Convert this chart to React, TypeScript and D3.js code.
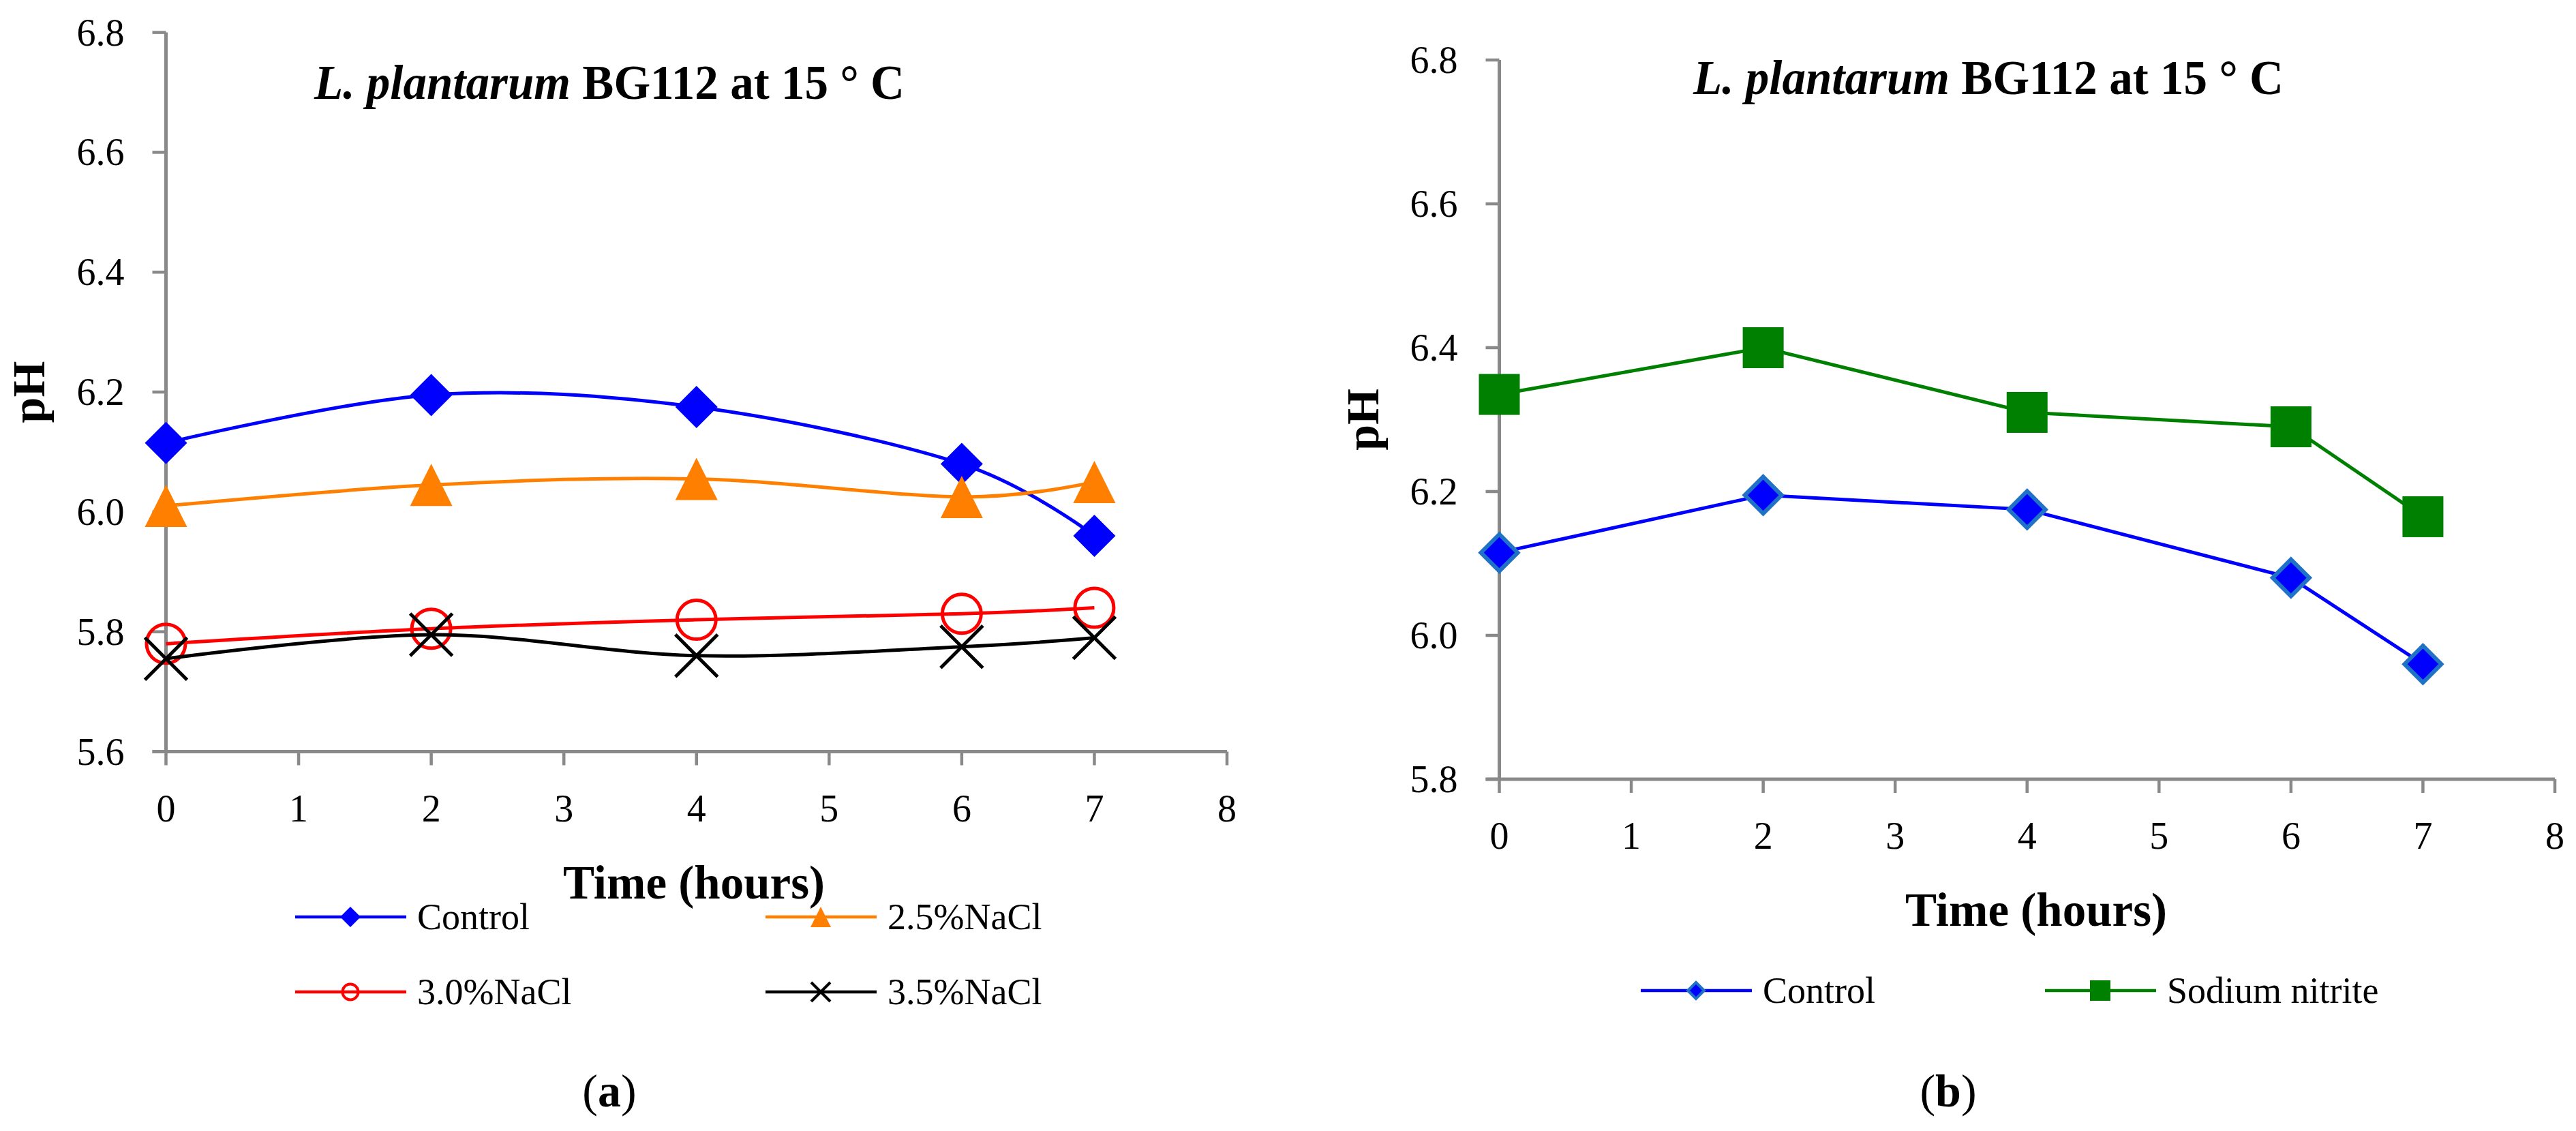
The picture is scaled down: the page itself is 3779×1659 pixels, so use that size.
import React from "react";
import * as d3 from "d3";

// ---------- data ----------
const hours = [0, 2, 4, 6, 7];
const controlPH = [6.115, 6.195, 6.175, 6.08, 5.96];
const nacl25PH = [6.01, 6.045, 6.055, 6.025, 6.05];
const nacl30PH = [5.78, 5.805, 5.82, 5.83, 5.84];
const nacl35PH = [5.755, 5.795, 5.76, 5.775, 5.79];
const nitritePH = [6.335, 6.4, 6.31, 6.29, 6.165];

const xTicks = [0, 1, 2, 3, 4, 5, 6, 7, 8];
const yTicksA = [5.6, 5.8, 6.0, 6.2, 6.4, 6.6, 6.8];
const yTicksB = [5.8, 6.0, 6.2, 6.4, 6.6, 6.8];

const seriesNamesA = ["Control", "2.5%NaCl", "3.0%NaCl", "3.5%NaCl"];
const seriesNamesB = ["Control", "Sodium nitrite"];
const titleItalic = "L. plantarum";
const titleRest = " BG112 at 15 ° C";
const xTitle = "Time (hours)";
const yTitle = "pH";

// ---------- styles ----------
const FONT = "'Liberation Serif', 'Times New Roman', serif";
const AXIS = "#898989";
const BLUE = "#0000ff";
const ORANGE = "#ff8000";
const RED = "#ff0000";
const BLACK = "#000000";
const GREEN = "#008000";
const LIGHTBLUE = "#1f72c6";

type MarkerKind = "diamond" | "triangle" | "circle" | "x" | "diamondOutlined" | "square";

function Marker({ kind, cx, cy, s, color }: { kind: MarkerKind; cx: number; cy: number; s: number; color: string }) {
  if (kind === "diamond") {
    return <path d={`M${cx},${cy - s}L${cx + s},${cy}L${cx},${cy + s}L${cx - s},${cy}Z`} fill={color} />;
  }
  if (kind === "diamondOutlined") {
    const r = s - 3;
    return (
      <path
        d={`M${cx},${cy - r}L${cx + r},${cy}L${cx},${cy + r}L${cx - r},${cy}Z`}
        fill={color}
        stroke={LIGHTBLUE}
        strokeWidth={s > 20 ? 6 : 4}
        strokeLinejoin="miter"
      />
    );
  }
  if (kind === "triangle") {
    return <path d={`M${cx},${cy - s}L${cx + s},${cy + s}L${cx - s},${cy + s}Z`} fill={color} />;
  }
  if (kind === "circle") {
    return <circle cx={cx} cy={cy} r={s - 2.5} fill="none" stroke={color} strokeWidth={s > 20 ? 5 : 4} />;
  }
  if (kind === "x") {
    return (
      <g stroke={color} strokeWidth={s > 20 ? 5 : 4}>
        <line x1={cx - s} y1={cy - s} x2={cx + s} y2={cy + s} />
        <line x1={cx - s} y1={cy + s} x2={cx + s} y2={cy - s} />
      </g>
    );
  }
  return <rect x={cx - s} y={cy - s} width={2 * s} height={2 * s} fill={color} />;
}

type Series = { name: string; values: number[]; color: string; marker: MarkerKind };

type PanelProps = {
  x0: number;
  x1: number;
  yTop: number;
  yBottom: number;
  yTicks: number[];
  series: Series[];
  smooth: boolean;
  markerSize: number;
  titleX: number;
  titleY: number;
  xTitleX: number;
  yTitleX: number;
  legend: { x: number; y: number }[];
  sub: string;
  subX: number;
};

function Panel(p: PanelProps) {
  const x = d3.scaleLinear().domain([0, 8]).range([p.x0, p.x1]);
  const y = d3
    .scaleLinear()
    .domain([p.yTicks[0], p.yTicks[p.yTicks.length - 1]])
    .range([p.yBottom, p.yTop]);
  const line = d3
    .line<number>()
    .x((_, i) => x(hours[i]))
    .y((v) => y(v))
    .curve(p.smooth ? d3.curveCatmullRom.alpha(0) : d3.curveLinear);

  const axisY = y(p.yTicks[0]);
  return (
    <g fontFamily={FONT}>
      {/* y axis */}
      <line x1={x(0)} x2={x(0)} y1={y(p.yTicks[p.yTicks.length - 1])} y2={axisY} stroke={AXIS} strokeWidth={5} />
      {p.yTicks.map((t) => (
        <g key={"yt" + t}>
          <line x1={x(0) - 20} x2={x(0)} y1={y(t)} y2={y(t)} stroke={AXIS} strokeWidth={4.5} />
          <text x={x(0) - 61} y={y(t) + 19} textAnchor="end" fontSize={56} fill="#000">
            {t.toFixed(1)}
          </text>
        </g>
      ))}
      {/* x axis */}
      <line x1={x(0) - 20} x2={x(8)} y1={axisY} y2={axisY} stroke={AXIS} strokeWidth={5} />
      {xTicks.map((t) => (
        <g key={"xt" + t}>
          <line x1={x(t)} x2={x(t)} y1={axisY} y2={axisY + 20} stroke={AXIS} strokeWidth={4.5} />
          <text x={x(t)} y={axisY + 102} textAnchor="middle" fontSize={56} fill="#000">
            {t}
          </text>
        </g>
      ))}
      {/* series */}
      {p.series.map((s) => (
        <g key={s.name + s.color}>
          <path d={line(s.values) || ""} fill="none" stroke={s.color} strokeWidth={5} />
          {s.values.map((v, i) => (
            <Marker key={i} kind={s.marker} cx={x(hours[i])} cy={y(v)} s={p.markerSize} color={s.color} />
          ))}
        </g>
      ))}
      {/* title */}
      <text x={p.titleX} y={p.titleY} fontSize={72} fontWeight="bold" textLength={866} lengthAdjust="spacingAndGlyphs">
        <tspan fontStyle="italic">{titleItalic}</tspan>
        <tspan>{titleRest}</tspan>
      </text>
      {/* axis titles */}
      <text x={p.xTitleX} y={axisY + 215} textAnchor="middle" fontSize={69} fontWeight="bold">
        {xTitle}
      </text>
      <text
        transform={`translate(${p.yTitleX},${(p.yTop + p.yBottom) / 2}) rotate(-90)`}
        textAnchor="middle"
        fontSize={68}
        fontWeight="bold"
      >
        {yTitle}
      </text>
      {/* legend */}
      {p.series.map((s, i) => {
        const L = p.legend[i];
        return (
          <g key={"lg" + i}>
            <line x1={L.x} x2={L.x + 163} y1={L.y} y2={L.y} stroke={s.color} strokeWidth={4.5} />
            <Marker kind={s.marker} cx={L.x + 81} cy={L.y} s={s.marker === "x" || s.marker === "circle" ? 14 : 15} color={s.color} />
            <text x={L.x + 179} y={L.y + 18} fontSize={54}>
              {s.name}
            </text>
          </g>
        );
      })}
      {/* sub label */}
      <text x={p.subX} y={1623} textAnchor="middle" fontSize={68}>
        <tspan>(</tspan>
        <tspan fontWeight="bold">{p.sub}</tspan>
        <tspan>)</tspan>
      </text>
    </g>
  );
}

export default function App() {
  const seriesA: Series[] = [
    { name: seriesNamesA[0], values: controlPH, color: BLUE, marker: "diamond" },
    { name: seriesNamesA[1], values: nacl25PH, color: ORANGE, marker: "triangle" },
    { name: seriesNamesA[2], values: nacl30PH, color: RED, marker: "circle" },
    { name: seriesNamesA[3], values: nacl35PH, color: BLACK, marker: "x" },
  ];
  const seriesB: Series[] = [
    { name: seriesNamesB[0], values: controlPH, color: BLUE, marker: "diamondOutlined" },
    { name: seriesNamesB[1], values: nitritePH, color: GREEN, marker: "square" },
  ];
  return (
    <svg
      width={3779}
      height={1659}
      viewBox="0 0 3779 1659"
      style={{ position: "absolute", left: 0, top: 0, background: "#fff" }}
    >
      <rect x={0} y={0} width={3779} height={1659} fill="#fff" />
      <Panel
        x0={243.5}
        x1={1800}
        yTop={47.6}
        yBottom={1102.5}
        yTicks={yTicksA}
        series={seriesA}
        smooth={true}
        markerSize={31}
        titleX={461}
        titleY={145}
        xTitleX={1018}
        yTitleX={65}
        legend={[
          { x: 433, y: 1345 },
          { x: 1123, y: 1345 },
          { x: 433, y: 1455 },
          { x: 1123, y: 1455 },
        ]}
        sub="a"
        subX={894}
      />
      <Panel
        x0={2199.5}
        x1={3748}
        yTop={88}
        yBottom={1143}
        yTicks={yTicksB}
        series={seriesB}
        smooth={false}
        markerSize={30}
        titleX={2484}
        titleY={138}
        xTitleX={2987}
        yTitleX={2022}
        legend={[
          { x: 2407, y: 1453 },
          { x: 3000, y: 1453 },
        ]}
        sub="b"
        subX={2858}
      />
    </svg>
  );
}
